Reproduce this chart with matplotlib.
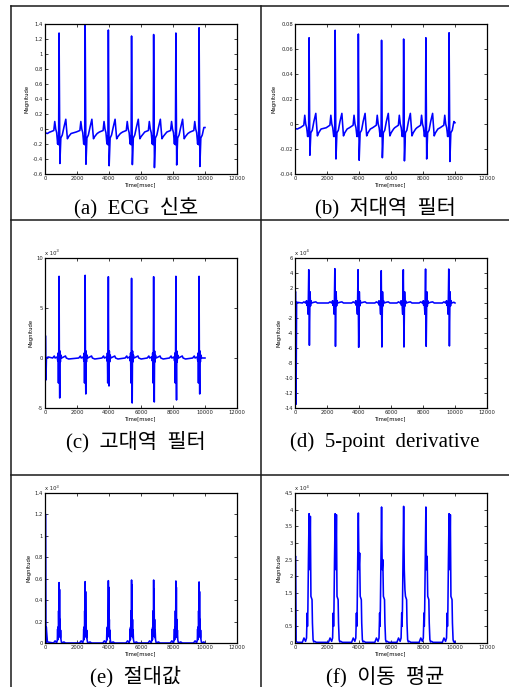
import matplotlib
matplotlib.use('Agg')
import matplotlib.pyplot as plt
from matplotlib.lines import Line2D
from matplotlib.ticker import FuncFormatter

# ── Data ────────────────────────────────────────────────────────────────
# R-peak times (msec), same seven beats in every panel
R_TIMES = [880, 2510, 3960, 5410, 6790, 8180, 9630]
END_T = 10000
X_TICKS = [0, 2000, 4000, 6000, 8000, 10000, 12000]

# (a) ECG signal
ECG_PEAK = [1.28, 1.39, 1.32, 1.24, 1.26, 1.28, 1.35]
ECG_TROUGH = [-0.46, -0.47, -0.49, -0.475, -0.515, -0.48, -0.50]
ECG_OFFS = [-560, -330, -270, -210, -150, -90, -60, -30, 0, 50, 110, 200, 300, 420, 460, 520, 600, 750]
ECG_SHAPE = [-0.04, -0.02, 0.10, 0.0, -0.05, -0.20, -0.10, -0.21, 'R', 'S',
             -0.12, -0.08, 0.02, 0.13, 0.02, -0.13, -0.10, -0.06]
ECG_START = ([0, 150, 300], [-0.05, -0.06, -0.04])
ECG_END = 0.02
ECG_YTICKS = [-0.6, -0.4, -0.2, 0, 0.2, 0.4, 0.6, 0.8, 1.0, 1.2, 1.4]

# (b) low-pass filter
LPF_PEAK = [0.069, 0.075, 0.072, 0.067, 0.068, 0.069, 0.073]
LPF_TROUGH = [-0.025, -0.028, -0.029, -0.027, -0.0295, -0.028, -0.030]
LPF_SHAPE = [-0.003, -0.001, 0.007, 0.0, -0.003, -0.010, -0.006, -0.010, 'R', 'S',
             -0.007, -0.005, 0.002, 0.0085, 0.001, -0.0095, -0.007, -0.004]
LPF_START = ([0, 150, 300], [-0.0037, -0.004, -0.003])
LPF_END = 0.001
LPF_YTICKS = [-0.04, -0.02, 0, 0.02, 0.04, 0.06, 0.08]

# (c) high-pass filter, x 10^-3
HPF_PEAK = [8.17, 8.27, 8.13, 7.97, 8.13, 8.17, 8.17]
HPF_TROUGH = [-4.0, -3.6, -2.8, -4.5, -4.4, -4.2, -3.6]
HPF_OFFS = [-400, -300, -250, -120, -80, -60, -40, -20, 0, 20, 40, 60, 80, 110, 160, 400, 450, 600]
HPF_SHAPE = [0.0, 0.2, 0.0, 0.1, -0.3, 0.5, -2.5, 0.6, 'R', -1.0, 'S', 0.7, -0.4, 0.3, 0.0, 0.2, 0.0, -0.1]
HPF_START = ([0, 40, 60, 90, 200], [2.2, 2.2, -2.2, 0.0, 0.1])
HPF_END = 0.0
HPF_YTICKS = [-5, 0, 5, 10]

# (d) 5-point derivative, x 10^-4
DER_PEAK = [4.44, 4.58, 4.44, 4.31, 4.44, 4.53, 4.53]
DER_TROUGH = [-5.64, -5.78, -5.91, -5.87, -5.87, -5.78, -5.73]
DER_OFFS = [-420, -320, -220, -160, -140, -120, -90, -60, -20, 20, 60, 90, 120, 160, 300, 420, 520]
DER_SHAPE = [0.0, 0.15, 0.0, 0.3, -0.3, 0.2, -0.4, -1.5, 'R', 'S', 1.5, -0.4, 0.3, 0.0, 0.1, 0.15, 0.0]
DER_START = ([0, 40, 65, 100], [1.4, 1.5, -13.5, 0.1])
DER_END = 0.0
DER_YTICKS = [-14, -12, -10, -8, -6, -4, -2, 0, 2, 4, 6]

# (e) absolute value, x 10^-3
ABS_PEAK = [0.564, 0.573, 0.582, 0.588, 0.588, 0.579, 0.570]
ABS_SECOND = [0.50, 0.48, 0.52, 0.54, 0.50, 0.52, 0.48]
ABS_OFFS = [-350, -250, -150, -110, -90, -75, -60, -45, -30, -15, 0, 15, 30, 45, 60, 75, 95, 120, 160, 300, 400]
ABS_SHAPE = [0.0, 0.02, 0.0, 0.03, 0.13, 0.03, 0.15, 0.06, 0.30, 0.1, 'R', 0.08, 'S', 0.1, 0.22, 0.05, 0.12,
             0.03, 0.0, 0.01, 0.0]
ABS_START = ([0, 40, 60, 80, 150], [1.2, 1.2, 0.0, 0.15, 0.01])
ABS_END = 0.0
ABS_YTICKS = [0, 0.2, 0.4, 0.6, 0.8, 1.0, 1.2, 1.4]

# (f) moving average, x 10^-4
AVG_PEAK = [3.88, 3.88, 3.90, 4.08, 4.10, 4.08, 3.88]
AVG_SECOND = [3.80, 3.85, 2.70, 2.50, 1.60, 2.60, 3.85]
AVG_OFFS = [-420, -320, -220, -160, -120, -100, -75, -40, 0, 40, 80, 115, 150, 185, 210, 250, 290, 350, 450]
AVG_SHAPE = [0.02, 0.15, 0.05, 0.15, 0.9, 0.5, 1.0, 2.5, 'R', 2.2, 'S', 1.4, 1.35, 1.3, 0.6, 0.1, 0.03, 0.05, 0.02]
AVG_START = ([0, 40, 70, 150], [2.55, 2.6, 0.05, 0.02])
AVG_END = 0.02
AVG_YTICKS = [0, 0.5, 1, 1.5, 2, 2.5, 3, 3.5, 4, 4.5]

CAPTIONS = ['(a)  ECG  신호', '(b)  저대역  필터', '(c)  고대역  필터',
            '(d)  5-point  derivative', '(e)  절대값', '(f)  이동  평균']


def build(peaks, troughs, offs, shape, start, end_v):
    t, v = list(start[0]), list(start[1])
    for r, p, s in zip(R_TIMES, peaks, troughs):
        for o, val in zip(offs, shape):
            if r + o <= t[-1] or r + o >= END_T:
                continue
            t.append(r + o)
            v.append(p if val == 'R' else s if val == 'S' else val)
    t.append(END_T)
    v.append(end_v)
    return t, v


traces = [
    build(ECG_PEAK, ECG_TROUGH, ECG_OFFS, ECG_SHAPE, ECG_START, ECG_END),
    build(LPF_PEAK, LPF_TROUGH, ECG_OFFS, LPF_SHAPE, LPF_START, LPF_END),
    build(HPF_PEAK, HPF_TROUGH, HPF_OFFS, HPF_SHAPE, HPF_START, HPF_END),
    build(DER_PEAK, DER_TROUGH, DER_OFFS, DER_SHAPE, DER_START, DER_END),
    build(ABS_PEAK, ABS_SECOND, ABS_OFFS, ABS_SHAPE, ABS_START, ABS_END),
    build(AVG_PEAK, AVG_SECOND, AVG_OFFS, AVG_SHAPE, AVG_START, AVG_END),
]
yticks = [ECG_YTICKS, LPF_YTICKS, HPF_YTICKS, DER_YTICKS, ABS_YTICKS, AVG_YTICKS]
exponents = [None, None, '-3', '-4', '-3', '-4']

# ── Layout (pixels) ─────────────────────────────────────────────────────
W, H = 510, 687
COL_X = [(45, 237), (295, 487)]
ROW_Y = [(24, 174), (258, 408), (493, 643)]
CAP_Y = [208, 442, 677]
CELL_CX = [136, 385]

fig = plt.figure(figsize=(W / 100, H / 100), dpi=100)

fmt = FuncFormatter(lambda v, p: '%g' % v)

for i, (t, v) in enumerate(traces):
    row, col = divmod(i, 2)
    l, r = COL_X[col]
    top, bot = ROW_Y[row]
    ax = fig.add_axes([l / W, 1 - bot / H, (r - l) / W, (bot - top) / H])
    ax.plot(t, v, color='#0000ff', linewidth=1.15)
    ax.set_xlim(0, 12000)
    ax.set_ylim(yticks[i][0], yticks[i][-1])
    ax.set_xticks(X_TICKS)
    ax.set_yticks(yticks[i])
    ax.xaxis.set_major_formatter(fmt)
    ax.yaxis.set_major_formatter(fmt)
    ax.tick_params(direction='in', length=2, width=0.6, top=True, right=True,
                   labelsize=3.8, pad=1.5, colors='#222222')
    for sp in ax.spines.values():
        sp.set_linewidth(0.9)
    ax.set_xlabel('Time[msec]', fontsize=3.8, labelpad=1)
    ax.set_ylabel('Magnitude', fontsize=3.8, labelpad=2)
    if exponents[i]:
        ax.text(0.0, 1.012, 'x 10', transform=ax.transAxes,
                fontsize=3.8, va='bottom', ha='left', color='#222222')
        ax.text(0.058, 1.03, exponents[i], transform=ax.transAxes,
                fontsize=2.8, va='bottom', ha='left', color='#222222')
    fig.text(CELL_CX[col] / W, 1 - CAP_Y[row] / H, CAPTIONS[i],
             family=['Liberation Serif', 'Noto Sans CJK KR'], fontsize=15,
             ha='center', va='center')

# table borders
def hline(y, x0, x1):
    fig.add_artist(Line2D([x0 / W, x1 / W], [1 - y / H, 1 - y / H], color='#1a1a1a', linewidth=1.1))

def vline(x, y0, y1):
    fig.add_artist(Line2D([x / W, x / W], [1 - y0 / H, 1 - y1 / H], color='#1a1a1a', linewidth=1.1))

hline(6, 11, 510)
hline(219.5, 11, 510)
hline(475, 11, 510)
vline(11, 6, 687)
vline(261, 6, 687)

fig.savefig('out.png', dpi=100)
